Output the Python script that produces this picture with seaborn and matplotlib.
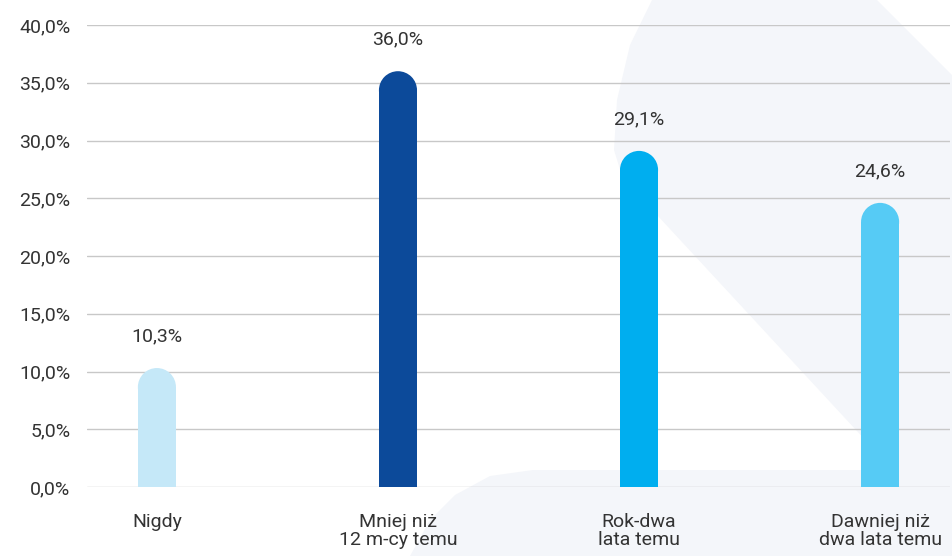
"""Bar chart: when was the last time (share of respondents)."""

import pandas as pd
import numpy as np
import matplotlib.pyplot as plt
import seaborn as sns
from matplotlib.patches import Ellipse, Polygon
from matplotlib.ticker import FuncFormatter, MultipleLocator

categories = ["Nigdy", "Mniej niż\n12 m-cy temu", "Rok-dwa\nlata temu", "Dawniej niż\ndwa lata temu"]
values = [10.3, 36.0, 29.1, 24.6]
colors = ["#c5e8f8", "#0c4a9a", "#00aeef", "#56cbf5"]

df = pd.DataFrame({"kategoria": categories, "udzial": values})

sns.set_theme(style="white")
plt.rcParams["font.family"] = ["Roboto", "DejaVu Sans"]
text_color = "#333333"
fs = 14

W, H = 952, 556
fig = plt.figure(figsize=(W / 100, H / 100), dpi=100)

# faint decorative background shape (pixel coords, top-left origin)
bg_px = [(652, 0), (877, 0), (952, 75), (952, 556), (410, 556), (430, 520),
         (455, 495), (490, 476), (533, 470), (893, 470), (657, 215),
         (627, 192), (614, 150), (617, 100), (630, 45)]
bg = Polygon([(x / W, 1 - y / H) for x, y in bg_px], closed=True,
             transform=fig.transFigure, facecolor="#f4f6fa", edgecolor="none", zorder=0)
fig.patches.append(bg)

ax = fig.add_axes([87 / W, 1 - 487 / H, (950 - 87) / W, (487 - 25) / H])
ax.set_zorder(1)
ax.patch.set_alpha(0)

bar_w = 0.158
sns.barplot(data=df, x="kategoria", y="udzial", hue="kategoria", palette=colors,
            legend=False, width=bar_w, saturation=1, ax=ax, zorder=3)

ax.set_xlim(-0.29, 3.29)
ax.set_ylim(0, 40)
ax.yaxis.set_major_locator(MultipleLocator(5))
ax.yaxis.set_major_formatter(FuncFormatter(lambda v, _: f"{v:.1f}%".replace(".", ",")))
ax.grid(axis="y", color="#c8c8c8", linewidth=1, zorder=0)
ax.set_axisbelow(True)
for s in ax.spines.values():
    s.set_visible(False)

# pixel scale, to turn the bar tops into half circles
px_x = ax.get_position().width * W / 3.58
px_y = ax.get_position().height * H / 40

for patch, v in list(zip(ax.patches, values)):
    w = patch.get_width()
    cx = patch.get_x() + w / 2
    r_data = (w * px_x / 2) / px_y
    patch.set_height(v - r_data)
    patch.set_linewidth(0)
    cap = Ellipse((cx, v - r_data), w, 2 * r_data,
                  facecolor=patch.get_facecolor(), edgecolor="none", zorder=3)
    ax.add_patch(cap)
    ax.annotate(f"{v:.1f}%".replace(".", ","), (cx, v), xytext=(0, 23),
                textcoords="offset points", ha="center", va="center",
                fontsize=fs, color=text_color)

ax.set_xlabel("")
ax.set_ylabel("")
ax.tick_params(axis="y", length=0, pad=12, labelsize=fs, labelcolor=text_color)
ax.tick_params(axis="x", length=0, pad=19, labelsize=fs, labelcolor=text_color)
for lbl in ax.get_xticklabels():
    lbl.set_linespacing(1.0)

fig.savefig("out.png", dpi=100)
